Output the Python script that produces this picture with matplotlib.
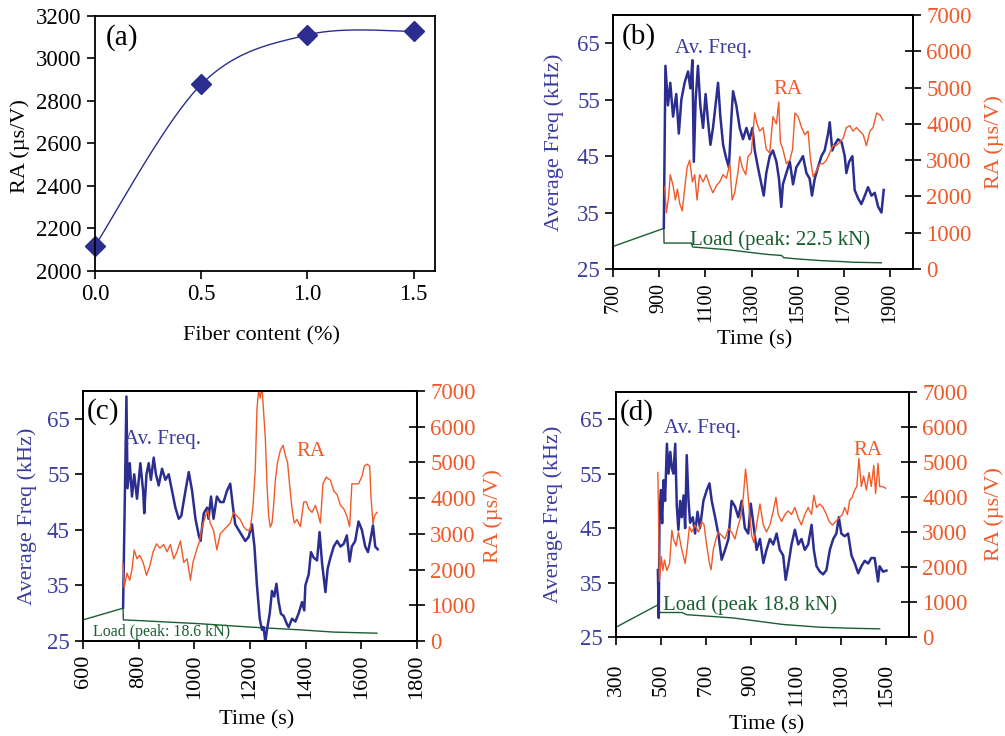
import numpy as np
import matplotlib
matplotlib.use('Agg')
import matplotlib.pyplot as plt

plt.rcParams['font.family'] = ['Liberation Serif', 'DejaVu Serif']

# colours
c_blue = '#2b2e8f'
c_btxt = '#3a3c9e'
c_org = '#f05a28'
c_grn = '#1b5e30'

# ---- (a) RA vs fiber content
fiber = [0.0, 0.5, 1.0, 1.5]
ra_fiber = [2118, 2878, 3111, 3128]

# ---- (b) time series (time s, value)
freq_b = [(920, 32.3), (927, 61), (938, 54), (948, 58), (960, 52), (974, 56), (985, 49), (996, 55),
          (1010, 58), (1025, 60), (1035, 57), (1044, 62), (1050, 44), (1058, 55), (1068, 61), (1078, 54),
          (1090, 50), (1101, 56), (1112, 51), (1122, 47), (1133, 50), (1144, 54), (1155, 58), (1165, 52),
          (1177, 47), (1188, 45), (1202, 43), (1213, 52), (1220, 56.5), (1234, 54), (1249, 50), (1263, 48),
          (1278, 50), (1292, 48), (1304, 50), (1314, 46), (1328, 43), (1343, 40), (1353, 38), (1364, 42),
          (1379, 45), (1393, 46), (1408, 44), (1419, 41), (1429, 36), (1436, 40), (1451, 42), (1466, 44),
          (1480, 40), (1494, 43), (1509, 44), (1523, 45), (1538, 42), (1552, 41), (1562, 38), (1574, 41),
          (1588, 43), (1603, 45), (1617, 46), (1632, 49), (1639, 51), (1650, 46), (1660, 47), (1675, 48),
          (1690, 47.5), (1704, 45), (1711, 42), (1723, 44), (1737, 45), (1747, 39), (1762, 37.5), (1776, 36.5),
          (1791, 38), (1805, 39.5), (1820, 38), (1834, 38.5), (1849, 36), (1863, 35), (1873, 39)]
ra_b = [(924, 2260), (931, 1550), (941, 2000), (948, 2600), (960, 2300), (970, 1900), (979, 2200), (989, 1800),
        (1000, 1600), (1010, 2200), (1021, 2800), (1032, 3000), (1044, 2400), (1054, 2600), (1064, 1900),
        (1075, 2600), (1090, 2400), (1104, 2600), (1119, 2300), (1133, 2100), (1148, 2300), (1162, 2400),
        (1177, 2600), (1191, 2500), (1206, 2900), (1216, 1900), (1227, 2100), (1242, 2700), (1249, 3100),
        (1260, 2800), (1275, 2600), (1285, 3100), (1299, 3200), (1314, 4300), (1324, 4000), (1336, 3800),
        (1350, 3900), (1364, 3300), (1379, 3200), (1393, 4200), (1408, 4000), (1418, 4600), (1425, 3500),
        (1436, 3300), (1451, 2900), (1466, 3000), (1478, 3300), (1488, 4300), (1502, 4200), (1517, 3900),
        (1531, 3700), (1545, 3800), (1556, 3000), (1567, 2550), (1581, 2700), (1596, 2900), (1610, 2900),
        (1625, 3000), (1639, 3200), (1653, 3400), (1668, 3400), (1683, 3500), (1697, 3600), (1711, 3900),
        (1726, 3950), (1740, 3800), (1755, 3900), (1769, 3800), (1784, 3700), (1798, 3400), (1813, 3800),
        (1827, 3900), (1842, 4300), (1856, 4250), (1870, 4100)]
load_b = [(700, 29.0), (920, 32.2), (921, 29.6), (1040, 29.6), (1045, 28.9), (1200, 28.4), (1364, 27.6),
          (1430, 27.4), (1440, 27.0), (1494, 26.8), (1596, 26.5), (1700, 26.3), (1740, 26.2), (1863, 26.1)]

# ---- (c)
freq_c = [(744, 31), (756, 69), (760, 52.5), (768, 57), (776, 51), (784, 55), (794, 50.6), (806, 57), (816, 52),
          (820, 48), (828, 55), (836, 57), (844, 54), (854, 58), (862, 55), (872, 53), (884, 56), (896, 54),
          (908, 55), (920, 52), (932, 49), (944, 47), (953, 47.5), (968, 52), (980, 55.4), (992, 52), (1004, 47),
          (1016, 44), (1022, 43), (1034, 48), (1046, 49), (1051, 47), (1060, 51), (1069, 47), (1081, 51),
          (1093, 50), (1105, 50), (1117, 52), (1129, 53.3), (1139, 49), (1147, 46), (1159, 45), (1171, 44),
          (1183, 43), (1195, 43.7), (1207, 46), (1216, 42), (1225, 35), (1235, 29), (1243, 27), (1249, 27.5),
          (1255, 24.8), (1261, 27), (1271, 30), (1279, 34), (1287, 33), (1295, 35.3), (1303, 32), (1311, 29.9),
          (1321, 29.5), (1333, 28), (1339, 27.5), (1351, 29), (1363, 28.5), (1375, 30), (1387, 32), (1395, 30.5),
          (1399, 35), (1411, 37), (1419, 41), (1429, 40), (1441, 39.5), (1450, 44.6), (1459, 39), (1471, 33.8),
          (1479, 38), (1489, 40), (1501, 42), (1513, 43), (1525, 42), (1537, 42.5), (1548, 44), (1558, 39.3),
          (1566, 42), (1578, 43), (1590, 46.5), (1602, 45), (1614, 42), (1624, 41), (1632, 43), (1642, 45.8),
          (1650, 42), (1659, 41.5)]
ra_c = [(744, 2170), (748, 1500), (758, 1900), (768, 1700), (776, 2000), (784, 2550), (794, 2300), (804, 2400),
        (816, 2200), (828, 1840), (840, 2100), (852, 2500), (864, 2720), (876, 2600), (890, 2700), (902, 2500),
        (914, 2700), (926, 2300), (938, 2500), (950, 2800), (962, 2200), (974, 2300), (986, 1700), (995, 2200),
        (1010, 2600), (1019, 2800), (1028, 3200), (1040, 3500), (1048, 3660), (1057, 3300), (1069, 3100),
        (1081, 2550), (1093, 3000), (1105, 3100), (1117, 3200), (1129, 3300), (1141, 3600), (1153, 3500),
        (1165, 3400), (1177, 3200), (1189, 3100), (1201, 3100), (1211, 3800), (1219, 4800), (1225, 6500),
        (1231, 7000), (1237, 6800), (1243, 7150), (1249, 6400), (1255, 5700), (1261, 4400), (1267, 3500),
        (1273, 3190), (1279, 3300), (1285, 3800), (1291, 4500), (1299, 5000), (1309, 5340), (1319, 5480),
        (1327, 5200), (1335, 5000), (1342, 4400), (1351, 3700), (1359, 3300), (1369, 3400), (1381, 3200),
        (1393, 3890), (1402, 3900), (1411, 3700), (1423, 3600), (1435, 3800), (1443, 3600), (1453, 3300),
        (1462, 4400), (1474, 4590), (1489, 4500), (1501, 4200), (1513, 4100), (1525, 3800), (1537, 3700),
        (1548, 3500), (1558, 3200), (1566, 4400), (1578, 4400), (1590, 4400), (1602, 4600), (1611, 4900),
        (1620, 4950), (1630, 4900), (1635, 4000), (1642, 3280), (1647, 3500), (1656, 3600)]
load_c = [(600, 28.8), (744, 30.9), (745, 28.8), (830, 28.6), (1022, 28.1), (1201, 27.5), (1381, 27.0),
          (1501, 26.6), (1656, 26.4)]

# ---- (d)
freq_d = [(486, 37.3), (490, 28.5), (493, 46.5), (499, 52), (505, 45.9), (511, 53.8), (518, 50), (526, 60.5),
          (533, 55), (541, 59), (548, 56), (555, 55), (563, 60.5), (570, 49), (577, 44.7), (585, 50), (592, 47),
          (600, 51), (607, 45), (614, 58.4), (622, 50), (629, 46), (641, 47), (651, 44), (662, 48), (673, 45),
          (688, 50), (703, 52), (715, 53.2), (725, 50), (740, 47), (754, 44), (769, 39.2), (784, 41), (799, 43),
          (813, 50), (828, 49), (843, 47), (858, 50), (872, 45), (887, 44), (898, 49.5), (909, 46), (924, 41),
          (939, 43), (954, 38.6), (968, 41), (983, 43), (998, 42), (1013, 44), (1027, 41), (1042, 40),
          (1053, 35.5), (1064, 38), (1079, 42), (1094, 44.7), (1109, 42), (1123, 43), (1138, 41), (1153, 42),
          (1168, 45.6), (1178, 41), (1190, 38), (1205, 37), (1219, 36.5), (1234, 37.3), (1249, 41), (1264, 43),
          (1278, 44), (1289, 47), (1300, 44), (1315, 43.5), (1330, 44), (1345, 40), (1360, 38.5), (1375, 36.7),
          (1389, 38), (1404, 39), (1419, 38.5), (1433, 39.5), (1448, 39.5), (1463, 35.2), (1470, 38), (1485, 37),
          (1500, 37.2)]
ra_d = [(486, 4700), (493, 1590), (501, 2300), (508, 1900), (515, 2200), (526, 1900), (538, 2100), (548, 3050),
        (555, 2800), (567, 2600), (577, 3000), (592, 2500), (607, 2100), (617, 2600), (626, 3150), (636, 3000),
        (651, 3200), (666, 3000), (681, 3300), (691, 3200), (703, 2600), (715, 2100), (722, 1920), (732, 2500),
        (744, 2800), (754, 3000), (769, 2900), (784, 2800), (799, 3100), (813, 3000), (828, 2800), (843, 3200),
        (853, 3400), (865, 4000), (875, 4800), (883, 4300), (892, 3600), (902, 2900), (912, 2700), (924, 3200),
        (939, 3800), (954, 3200), (968, 3000), (983, 3200), (998, 3600), (1010, 3990), (1020, 3500),
        (1035, 3300), (1050, 3500), (1064, 3600), (1079, 3500), (1094, 3700), (1109, 3400), (1123, 3200),
        (1138, 3500), (1153, 3700), (1168, 3500), (1178, 4050), (1190, 3700), (1205, 3800), (1219, 3700),
        (1234, 3500), (1246, 3300), (1261, 3200), (1275, 3300), (1290, 3400), (1305, 3500), (1315, 3700),
        (1327, 3500), (1337, 3900), (1349, 4000), (1359, 4200), (1369, 4300), (1378, 5100), (1389, 4300),
        (1399, 4600), (1411, 4200), (1423, 4700), (1433, 4300), (1444, 4900), (1452, 4100), (1463, 4960),
        (1470, 4300), (1482, 4300), (1497, 4250)]
load_d = [(300, 26.8), (486, 30.9), (487, 29.5), (592, 29.5), (614, 29.1), (820, 28.5), (1042, 27.3),
          (1205, 26.8), (1352, 26.6), (1470, 26.5)]

fig = plt.figure(figsize=(10.05, 7.36), dpi=100)


def style_ax(ax):
    for s in ax.spines.values():
        s.set_linewidth(1.3)
    ax.tick_params(direction='out', length=6, width=1.2, labelsize=16.5)


# excel-like smoothed line (bezier through the points)
def smooth(x, y, n=60):
    p = np.column_stack([x, y]).astype(float)
    p = np.vstack([p[0], p, p[-1]])
    out = []
    s = np.linspace(0, 1, n)[:, None]
    for i in range(1, len(p) - 2):
        p0, p3 = p[i], p[i+1]
        c1 = p0 + (p[i+1] - p[i-1]) / 6
        c2 = p3 - (p[i+2] - p[i]) / 6
        seg = (1-s)**3*p0 + 3*(1-s)**2*s*c1 + 3*(1-s)*s**2*c2 + s**3*p3
        out.append(seg)
    out = np.vstack(out)
    return out[:, 0], out[:, 1]


# panel (a)
axa = fig.add_axes([0.0945, 0.6318, 0.3383, 0.3465])
style_ax(axa)
xs, ys = smooth(fiber, ra_fiber)
axa.plot(xs, ys, color=c_blue, lw=1.0)
axa.plot(fiber, ra_fiber, 'D', color=c_blue, ms=10, clip_on=False)
axa.set_xlim(0, 1.6)
axa.set_ylim(2000, 3200)
axa.set_xticks([0.0, 0.5, 1.0, 1.5])
axa.set_xticklabels(['0.0', '0.5', '1.0', '1.5'])
axa.set_yticks(np.arange(2000, 3201, 200))
axa.set_ylabel('RA (µs/V)', fontsize=16)
axa.yaxis.set_label_coords(-0.19, 0.49)
axa.set_xlabel('Fiber content (%)', fontsize=16)
axa.xaxis.set_label_coords(0.49, -0.215)
axa.text(0.032, 0.914, '(a)', transform=axa.transAxes, fontsize=21, va='center', ha='left')


def ts_panel(rect, freq, ra, load, xlim, xticks, xfs, xpad, tag, txt, lab):
    ax = fig.add_axes(rect)
    style_ax(ax)
    f = np.array(freq).T
    l = np.array(load).T
    r = np.array(ra).T
    ax.plot(l[0], l[1], color=c_grn, lw=1.0)
    ax.plot(f[0], f[1], color=c_blue, lw=1.8)
    ax.set_xlim(*xlim)
    ax.set_ylim(25, 70)
    ax.set_yticks([25, 35, 45, 55, 65])
    ax.set_xticks(xticks)
    ax.tick_params(axis='x', labelrotation=90, labelsize=xfs, pad=xpad)
    ax.tick_params(axis='y', labelcolor=c_btxt)
    ax.set_ylabel('Average Freq (kHz)', color=c_btxt, fontsize=16)
    ax.yaxis.set_label_coords(lab[0], 0.5)
    ax.set_xlabel('Time (s)', fontsize=16)
    ax.xaxis.set_label_coords(lab[2], lab[3])
    ax2 = ax.twinx()
    style_ax(ax2)
    ax2.plot(r[0], r[1], color=c_org, lw=1.0)
    ax2.set_ylim(0, 7000)
    ax2.set_yticks(np.arange(0, 7001, 1000))
    ax2.tick_params(axis='y', direction='inout', length=12, labelcolor=c_org)
    ax2.set_ylabel('RA (µs/V)', color=c_org, fontsize=16, rotation=90)
    ax2.yaxis.set_label_coords(lab[1], 0.5)
    ax.text(tag[0], tag[1], tag[2], transform=ax.transAxes, fontsize=21, va='center', ha='left')
    ax.text(txt[0][0], txt[0][1], 'Av. Freq.', transform=ax.transAxes, fontsize=15,
            color=c_btxt, va='center', ha='left')
    ax.text(txt[1][0], txt[1][1], 'RA', transform=ax.transAxes, fontsize=15,
            color=c_org, va='center', ha='left')
    ax.text(txt[2][0], txt[2][1], txt[2][2], transform=ax.transAxes, fontsize=txt[2][3],
            color=c_grn, va='center', ha='left', zorder=5)
    return ax


ts_panel([0.6100, 0.6345, 0.2985, 0.3451], freq_b, ra_b, load_b, (700, 2000),
         np.arange(700, 1901, 200), 14.5, 4, (0.03, 0.917, '(b)'),
         [(0.207, 0.870), (0.533, 0.705), (0.257, 0.114, 'Load (peak: 22.5 kN)', 15)],
         (-0.163, 1.237, 0.473, -0.24))

ts_panel([0.0826, 0.1291, 0.3323, 0.3397], freq_c, ra_c, load_c, (600, 1800),
         np.arange(600, 1801, 200), 16, 3.5, (0.012, 0.916, '(c)'),
         [(0.123, 0.804), (0.638, 0.756), (0.03, 0.036, 'Load (peak: 18.6 kN)', 11.5)],
         (-0.138, 1.198, 0.52, -0.276))

ts_panel([0.6129, 0.1345, 0.2915, 0.3329], freq_d, ra_d, load_d, (300, 1600),
         np.arange(300, 1501, 200), 15.5, 13, (0.014, 0.918, '(d)'),
         [(0.164, 0.849), (0.812, 0.763), (0.160, 0.131, 'Load (peak 18.8 kN)', 15)],
         (-0.181, 1.256, 0.515, -0.318))

fig.savefig('out.png', dpi=100)
